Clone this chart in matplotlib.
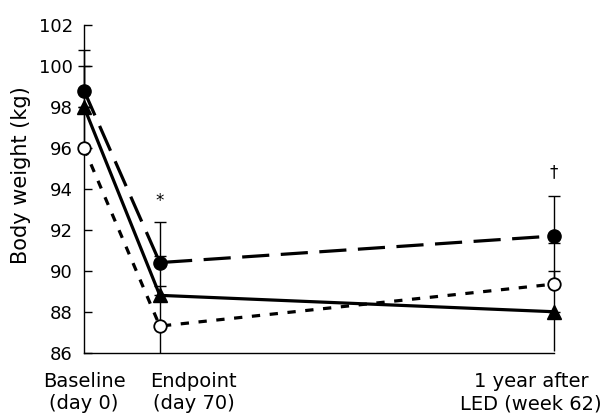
import matplotlib
matplotlib.use("Agg")
import matplotlib.pyplot as plt
from matplotlib.transforms import ScaledTranslation, Bbox, TransformedBbox

plt.rcParams['font.family'] = ['DejaVu Sans']

# Data
time_days = [0, 70, 434]
time_labels = ["Baseline\n(day 0)", "Endpoint\n(day 70)", "1 year after\nLED (week 62)"]

closed_mean = [98.8, 90.4, 91.7]
closed_err_up = [2.0, 2.0, 1.95]
closed_err_low = [0.0, 0.0, 0.0]

triangle_mean = [98.0, 88.8, 88.0]
triangle_err_up = [2.0, 1.9, 2.0]
triangle_err_low = [0.0, 0.0, 1.9]

open_mean = [96.0, 87.3, 89.35]
open_err_up = [2.0, 1.95, 2.0]
open_err_low = [0.0, 1.95, 0.0]

yticks = [86, 88, 90, 92, 94, 96, 98, 100, 102]
sig_marks = ["*", "\u2020"]
sig_x = [70, 434]
sig_y = [93.4, 94.8]

fig = plt.figure(figsize=(6.02, 4.18), dpi=100)
ax = fig.add_axes([84/602, 1-352.7/418, 470/602, 327.7/418])

clipbox = TransformedBbox(Bbox([[-0.2, 0.0], [1.2, 1.2]]), ax.transAxes)

lw = 2.3
# connecting lines
ax.plot(time_days, closed_mean, color='black', lw=lw, linestyle=(0, (8.5, 3.6)),
        clip_on=False, zorder=2)
ax.plot(time_days, triangle_mean, color='black', lw=lw, linestyle='-',
        clip_on=False, zorder=2)
ax.plot(time_days, open_mean, color='black', lw=lw, linestyle=(0, (2.6, 3.0)),
        clip_on=False, zorder=2)

# error bars (upper with caps, lower without caps)
for m, lo, up in [(closed_mean, closed_err_low, closed_err_up),
                  (triangle_mean, triangle_err_low, triangle_err_up),
                  (open_mean, open_err_low, open_err_up)]:
    eb = ax.errorbar(time_days, m, yerr=[[0]*len(m), up], fmt='none', ecolor='black',
                     elinewidth=1.0, capsize=4.5, capthick=1.0, zorder=3)
    for c in eb[1]:
        c.set_clip_on(False)
    for c in eb[2]:
        c.set_clip_box(clipbox)
    eb2 = ax.errorbar(time_days, m, yerr=[lo, [0]*len(m)], fmt='none', ecolor='black',
                      elinewidth=1.0, capsize=0, zorder=3)
    for c in eb2[2]:
        c.set_clip_box(clipbox)

# markers
ax.plot(time_days, closed_mean, linestyle='none', marker='o', ms=9.5,
        mfc='black', mec='black', clip_on=False, zorder=4)
ax.plot(time_days, triangle_mean, linestyle='none', marker='^', ms=9.5,
        mfc='black', mec='black', clip_on=False, zorder=4)
ax.plot(time_days, open_mean, linestyle='none', marker='o', ms=9,
        mfc='white', mec='black', mew=1.3, clip_on=False, zorder=5)

for s, xx, yy in zip(sig_marks, sig_x, sig_y):
    ax.text(xx, yy, s, ha='center', va='center', fontsize=12, color='black')

ax.set_xlim(time_days[0], time_days[-1])
ax.set_ylim(yticks[0], yticks[-1])
ax.set_yticks(yticks)
ax.set_yticklabels([str(t) for t in yticks], fontsize=13)
ax.tick_params(axis='y', direction='in', length=6, width=1.0, pad=8)

ax.set_xticks(time_days)
ax.set_xticklabels(time_labels, fontsize=14, linespacing=1.2)
ax.tick_params(axis='x', length=0, pad=14)
offsets_px = [0, 34, -23]
for lab, dx in zip(ax.get_xticklabels(), offsets_px):
    lab.set_multialignment('center')
    lab.set_transform(lab.get_transform() + ScaledTranslation(dx/100, 0, fig.dpi_scale_trans))

for side in ['top', 'right']:
    ax.spines[side].set_visible(False)
for side in ['left', 'bottom']:
    ax.spines[side].set_linewidth(1.0)

ax.set_ylabel("Body weight (kg)", fontsize=15)
ax.yaxis.set_label_coords(-0.113, 0.542)

fig.savefig("out.png", dpi=100)
